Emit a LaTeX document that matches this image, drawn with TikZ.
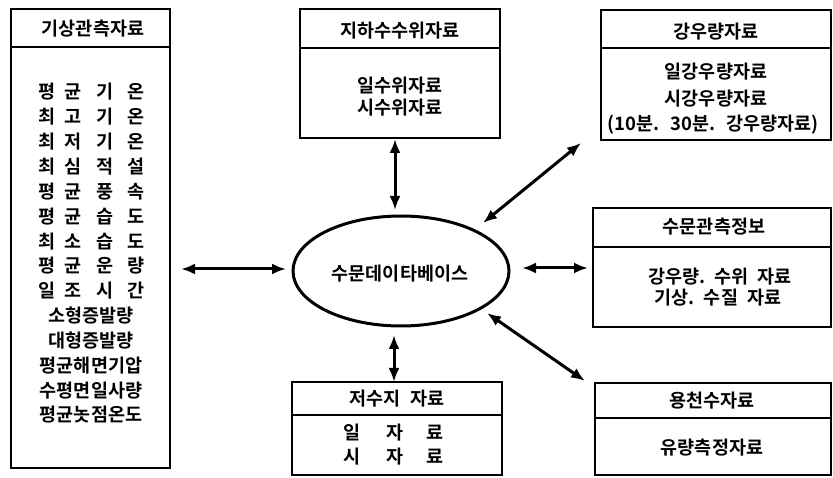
\documentclass[tikz,border=0pt]{standalone}
\usepackage{fontspec}
\setmainfont{Noto Sans CJK KR}[BoldFont={Noto Sans CJK KR Bold}]
\usetikzlibrary{arrows.meta}
\begin{document}
\begin{tikzpicture}[x=1pt,y=-1pt,
  box/.style={draw, line width=1.6pt, rectangle, inner sep=0pt},
  hline/.style={line width=1.4pt},
  txt/.style={inner sep=0pt, font=\fontsize{18.5}{22}\selectfont\bfseries},
  arr/.style={line width=3pt, {Latex[length=14pt,width=11pt]}-{Latex[length=14pt,width=11pt]}}]
\useasboundingbox (0,0) rectangle (833,478);
% left box
\node[box, minimum width=159pt, minimum height=459pt] (met) at (90.5,238.5) {};
\draw[hline] (met.west |- 0,47) -- (met.east |- 0,47);
\node[txt] (methd) at (93,29) {기상관측자료};
\node[txt] (m1) at (91.5,92) {평\hspace{9pt}균\hspace{15pt}기\hspace{13pt}온};
\node[txt] (m2) at (91.5,116.85) {최\hspace{9pt}고\hspace{15pt}기\hspace{13pt}온};
\node[txt] (m3) at (91.5,141.7) {최\hspace{9pt}저\hspace{15pt}기\hspace{13pt}온};
\node[txt] (m4) at (91.5,166.55) {최\hspace{9pt}심\hspace{15pt}적\hspace{13pt}설};
\node[txt] (m5) at (91.5,191.4) {평\hspace{9pt}균\hspace{15pt}풍\hspace{13pt}속};
\node[txt] (m6) at (91.5,216.25) {평\hspace{9pt}균\hspace{15pt}습\hspace{13pt}도};
\node[txt] (m7) at (91.5,241.1) {최\hspace{9pt}소\hspace{15pt}습\hspace{13pt}도};
\node[txt] (m8) at (91.5,265.95) {평\hspace{9pt}균\hspace{15pt}운\hspace{13pt}량};
\node[txt] (m9) at (91.5,290.8) {일\hspace{9pt}조\hspace{15pt}시\hspace{13pt}간};
\node[txt] (m10) at (91,315.65) {소형증발량};
\node[txt] (m11) at (91,340.5) {대형증발량};
\node[txt] (m12) at (91,365.35) {평균해면기압};
\node[txt] (m13) at (91,390.2) {수평면일사량};
\node[txt] (m14) at (91,415) {평균놋점온도};
% top middle box
\node[box, minimum width=200pt, minimum height=129pt] (gw) at (400,73.5) {};
\draw[hline] (gw.west |- 0,48) -- (gw.east |- 0,48);
\node[txt] (gwhd) at (400,31) {지하수수위자료};
\node[txt] (gw1) at (400,86) {일수위자료};
\node[txt] (gw2) at (400,108) {시수위자료};
% top right box
\node[box, minimum width=230pt, minimum height=130pt] (rain) at (716,75) {};
\draw[hline] (rain.west |- 0,48) -- (rain.east |- 0,48);
\node[txt] (rainhd) at (716,32) {강우량자료};
\node[txt] (rain1) at (716,72) {일강우량자료};
\node[txt] (rain2) at (716,99) {시강우량자료};
\node[txt] (rain3) at (713,125) {(10분.\hspace{11pt}30분.\hspace{11pt}강우량자료)};
% middle right box
\node[box, minimum width=238pt, minimum height=119pt] (obs) at (712,267.5) {};
\draw[hline] (obs.west |- 0,247) -- (obs.east |- 0,247);
\node[txt] (obshd) at (714,227) {수문관측정보};
\node[txt] (obs1) at (720,277) {강우량.\hspace{9pt}수위\hspace{9pt}자료};
\node[txt] (obs2) at (718,298) {기상.\hspace{9pt}수질\hspace{9pt}자료};
% bottom middle box
\node[box, minimum width=210pt, minimum height=93pt] (res) at (397,428.5) {};
\draw[hline] (res.west |- 0,415) -- (res.east |- 0,415);
\node[txt] (reshd) at (397,399) {저수지\hspace{10pt}자료};
\node[txt] (res1) at (393.5,433) {일\hspace{26pt}자\hspace{23.5pt}료};
\node[txt] (res2) at (393.5,457) {시\hspace{26pt}자\hspace{23.5pt}료};
% bottom right box
\node[box, minimum width=236pt, minimum height=92pt] (spr) at (713,429) {};
\draw[hline] (spr.west |- 0,418) -- (spr.east |- 0,418);
\node[txt] (sprhd) at (712,401) {용천수자료};
\node[txt] (spr1) at (712,448) {유량측정자료};
% central ellipse
\draw[line width=3pt] (401,271) ellipse [x radius=108pt, y radius=55pt];
\node[txt] (db) at (400,274) {수문데이타베이스};
% connector end points
\coordinate (a1s) at (181,269); \coordinate (a1e) at (286,269);
\coordinate (a2s) at (395,139); \coordinate (a2e) at (395,210);
\coordinate (a3s) at (483,223); \coordinate (a3e) at (581,143);
\coordinate (a4s) at (522,268); \coordinate (a4e) at (588,268);
\coordinate (a5s) at (487,313); \coordinate (a5e) at (585,381);
\coordinate (a6s) at (394,335); \coordinate (a6e) at (394,382);
\draw[arr] (a1s) -- (a1e);
\draw[arr] (a2s) -- (a2e);
\draw[arr] (a3s) -- (a3e);
\draw[arr] (a4s) -- (a4e);
\draw[arr] (a5s) -- (a5e);
\draw[arr] (a6s) -- (a6e);
\end{tikzpicture}
\end{document}
